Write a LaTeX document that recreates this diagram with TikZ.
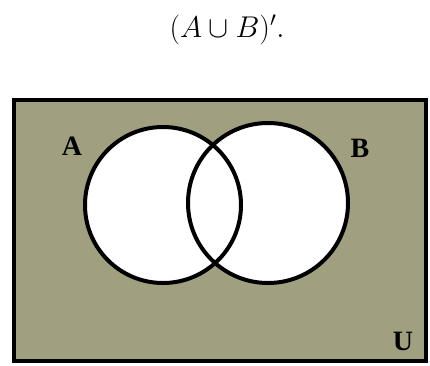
\RequirePackage{fix-cm}
\documentclass[tikz,border=0pt]{standalone}
\usepackage{fontspec}
\newfontfamily\labelfont{Liberation Serif}
\usetikzlibrary{positioning}
\definecolor{venngray}{RGB}{160,159,128}
\begin{document}
\begin{tikzpicture}[x=1pt, y=-1pt]
    \tikzstyle{universe} = [draw, line width=3.5pt, fill=venngray]
    \tikzstyle{setfill} = [circle, fill=white, inner sep=0pt]
    \tikzstyle{outline} = [draw, line width=4pt]
    \tikzstyle{setlabel} = [font=\labelfont\bfseries\fontsize{28}{28}\selectfont, inner sep=0pt]

    \useasboundingbox (0,0) rectangle (430,365);
    \node [anchor=base, font=\fontsize{30}{30}\selectfont] (title) at (227,37) {$(A \cup B)'.$};

    \draw [universe] (14,100) rectangle (426,361);

    % white insides first, outlines drawn over them
    \node [setfill, minimum size=156pt] (setA) at (163,205) {};
    \node [setfill, minimum size=160pt] (setB) at (268,203) {};
    \draw [outline] (setA.center) circle [radius=78pt];
    \draw [outline] (setB.center) circle [radius=80pt];

    \node [setlabel] (labA) at (72,146) {A};
    \node [setlabel] (labB) at (360,148) {B};
    \node [setlabel] (labU) at (403,341) {U};
\end{tikzpicture}
\end{document}
